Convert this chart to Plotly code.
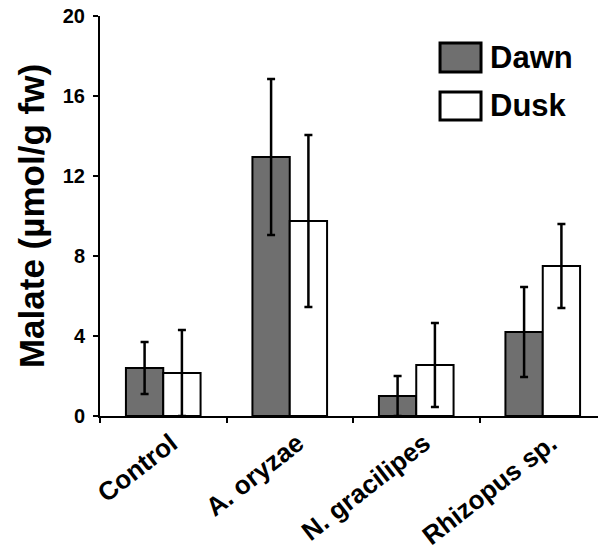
import plotly.graph_objects as go

categories = ["Control", "A. oryzae", "N. gracilipes", "Rhizopus sp."]
dawn = [2.4, 12.95, 1.0, 4.2]
dawn_err = [1.3, 3.9, 1.0, 2.25]
dusk = [2.15, 9.75, 2.55, 7.5]
dusk_err = [2.15, 4.3, 2.1, 2.1]
y_ticks = [0, 4, 8, 12, 16, 20]

FONT = "Liberation Sans, Arial, sans-serif"

fig = go.Figure()
fig.add_trace(go.Bar(
    x=categories, y=dawn, name="Dawn",
    marker=dict(color="#6f6f6f", line=dict(color="black", width=2)),
    error_y=dict(type="data", array=dawn_err, visible=True, color="black", thickness=2.5, width=4),
    showlegend=False,
))
fig.add_trace(go.Bar(
    x=categories, y=dusk, name="Dusk",
    marker=dict(color="white", line=dict(color="black", width=2)),
    error_y=dict(type="data", array=dusk_err, visible=True, color="black", thickness=2.5, width=4),
    showlegend=False,
))

# custom legend (large swatches as in the reference)
legend_items = [("Dawn", "#6f6f6f", 0.86, 0.9325, 0.8975), ("Dusk", "white", 0.74, 0.81, 0.775)]
for name, col, y0, y1, ty in legend_items:
    fig.add_shape(type="rect", xref="paper", yref="paper", x0=0.672, x1=0.753, y0=y0, y1=y1,
                  fillcolor=col, line=dict(color="black", width=3))
    fig.add_annotation(xref="paper", yref="paper", x=0.767, y=ty, text=f"<b>{name}</b>",
                       showarrow=False, xanchor="left", yanchor="middle",
                       font=dict(family=FONT, size=31, color="black"))

# the page body adds an 8px margin, so the figure is sized to compensate
fig.update_layout(
    width=598, height=549,
    margin=dict(l=92, r=0, t=8, b=141),
    paper_bgcolor="white", plot_bgcolor="white",
    barmode="group", bargap=0.41, bargroupgap=0,
    font=dict(family=FONT, color="black"),
)
fig.update_xaxes(
    automargin=False,
    showline=True, linecolor="black", linewidth=2,
    ticks="outside", tickson="boundaries", ticklen=5, tickwidth=2, tickcolor="black",
    tickangle=-38, tickfont=dict(family=FONT, size=26, color="black"),
    ticklabelshift=8,
    tickprefix="<b>", ticksuffix="</b>",
    showgrid=False,
)
fig.update_yaxes(
    automargin=False,
    range=[0, 20], tickvals=y_ticks, ticktext=[f"<b>{v}</b>" for v in y_ticks],
    showline=True, linecolor="black", linewidth=2,
    ticks="outside", ticklen=5, tickwidth=2, tickcolor="black",
    ticklabelstandoff=4, ticklabeloverflow="allow",
    tickfont=dict(family=FONT, size=20, color="black"),
    showgrid=False, zeroline=False,
    title=dict(text="<b>Malate (µmol/g fw)</b>", font=dict(family=FONT, size=35, color="black"), standoff=8),
)

fig.write_html("out.html")
